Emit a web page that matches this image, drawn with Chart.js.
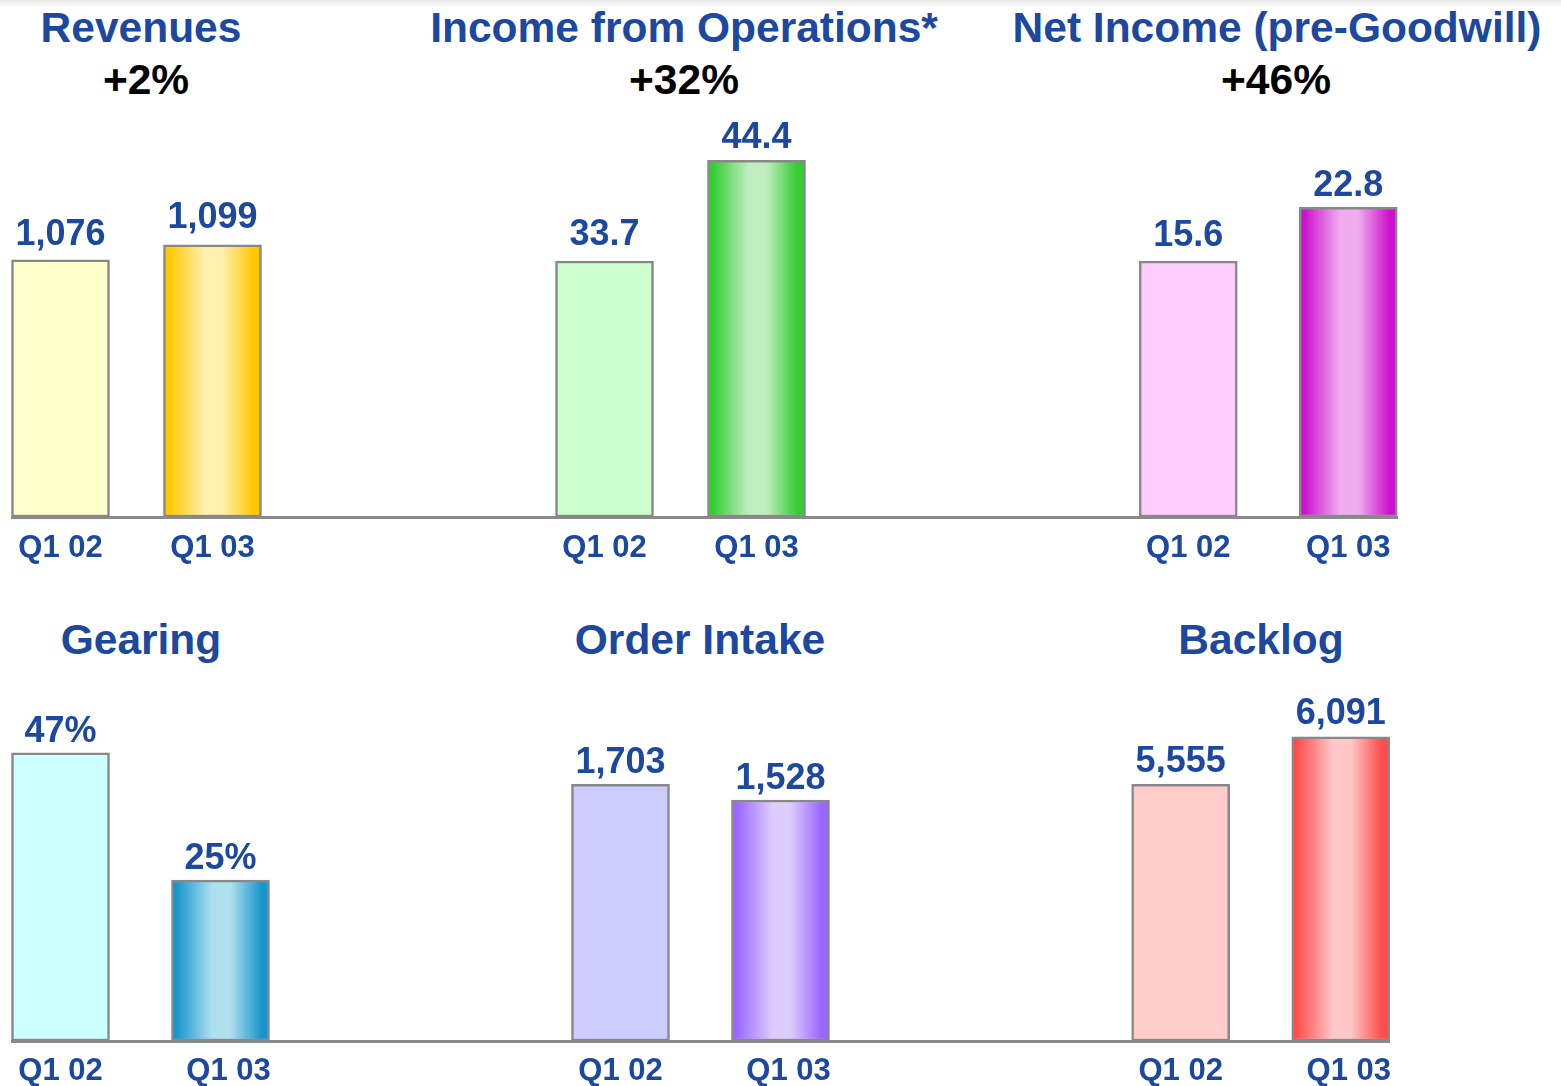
<!DOCTYPE html>
<html lang="en">
<head>
<meta charset="UTF-8">
<title>Q1 03 Key Figures</title>
<script src="https://cdn.jsdelivr.net/npm/chart.js@4.4.1/dist/chart.umd.min.js"></script>
<style>
  html, body { margin: 0; padding: 0; }
  body {
    width: 1561px; height: 1086px; overflow: hidden; position: relative;
    background: linear-gradient(#e8e8e8 0px, #ffffff 7px);
    font-family: "Liberation Sans", Arial, sans-serif;
  }
  .ttl {
    position: absolute; transform: translateX(-50%); white-space: nowrap;
    font-size: 42.5px; line-height: 42px; font-weight: bold; color: #1c48a0;
  }
  .ttl.pct { color: #000; }
  canvas { position: absolute; }
</style>
</head>
<body>

  <!-- top row headings -->
  <div class="ttl" style="left:141px; top:7px">Revenues</div>
  <div class="ttl pct" style="left:146px; top:59px">+2%</div>
  <div class="ttl" style="left:684px; top:7px">Income from Operations*</div>
  <div class="ttl pct" style="left:684px; top:59px">+32%</div>
  <div class="ttl" style="left:1277px; top:7px">Net Income (pre-Goodwill)</div>
  <div class="ttl pct" style="left:1276px; top:59px">+46%</div>

  <!-- bottom row headings -->
  <div class="ttl" style="left:141px; top:619px">Gearing</div>
  <div class="ttl" style="left:700px; top:619px">Order Intake</div>
  <div class="ttl" style="left:1261px; top:619px">Backlog</div>

  <canvas id="revenues" width="397" height="480" style="left:11px; top:100px"></canvas>
  <canvas id="income" width="564" height="480" style="left:408px; top:100px"></canvas>
  <canvas id="net" width="426" height="480" style="left:972px; top:100px"></canvas>
  <canvas id="gearing" width="409" height="422" style="left:11px; top:680px"></canvas>
  <canvas id="orders" width="560" height="422" style="left:420px; top:680px"></canvas>
  <canvas id="backlog" width="411" height="422" style="left:980px; top:680px"></canvas>

<script>
  // values
  const quarters = ['Q1 02', 'Q1 03'];
  const revenues = [1076, 1099];
  const incomeOps = [33.7, 44.4];
  const netIncome = [15.6, 22.8];
  const gearing = [47, 25];
  const orderIntake = [1703, 1528];
  const backlog = [5555, 6091];

  const BLUE = '#1c48a0';
  const FONT = '"Liberation Sans", Arial, sans-serif';
  const BAR = 98;

  // draws the number above each bar
  function valueLabels(fmt, gaps) {
    return {
      id: 'valueLabels',
      afterDatasetsDraw(chart) {
        const ctx = chart.ctx;
        const ds = chart.data.datasets[0];
        ctx.save();
        ctx.font = 'bold 36px ' + FONT;
        ctx.fillStyle = BLUE;
        ctx.textAlign = 'center';
        ctx.textBaseline = 'alphabetic';
        chart.getDatasetMeta(0).data.forEach((bar, i) => {
          ctx.fillText(fmt(ds.data[i].y), bar.x, bar.y - gaps[i]);
        });
        ctx.restore();
      }
    };
  }

  function barChart(id, values, fmt, look) {
    const pts = values.map((v, i) => ({ x: i, y: v }));
    return new Chart(document.getElementById(id), {
      type: 'bar',
      data: {
        datasets: [{
          data: pts,
          base: look.y[0],
          barThickness: BAR,
          borderColor: '#888888',
          borderWidth: 2.5,
          borderSkipped: false,
          clip: false,
          // Q1 03 bars get the shaded "tube" look
          backgroundColor: (c) => {
            if (c.type !== 'data' || c.dataIndex === 0) return look.flat;
            const chart = c.chart;
            if (!chart.chartArea) return look.edge;
            const cx = chart.scales.x.getPixelForValue(c.parsed.x);
            const g = chart.ctx.createLinearGradient(cx - BAR / 2, 0, cx + BAR / 2, 0);
            g.addColorStop(0, look.edge);
            g.addColorStop(0.05, look.edge);
            g.addColorStop(0.42, look.mid);
            g.addColorStop(0.6, look.mid);
            g.addColorStop(0.92, look.edge);
            g.addColorStop(1, look.edge);
            return g;
          }
        }]
      },
      options: {
        responsive: false,
        animation: false,
        devicePixelRatio: 1,
        layout: { padding: 0 },
        plugins: {
          legend: { display: false },
          tooltip: { enabled: false },
          title: { display: false }
        },
        scales: {
          x: {
            type: 'linear',
            offset: false,
            min: look.x[0],
            max: look.x[1],
            grid: { display: false, drawTicks: false },
            border: { display: true, color: '#8a8a8a', width: 3 },
            // one tick per quarter; bottom-row Q1 03 labels sit a little right of the bar, as on the slide
            afterBuildTicks: (scale) => { scale.ticks = look.ticksAt.map((v) => ({ value: v })); },
            ticks: {
              autoSkip: false,
              maxRotation: 0,
              minRotation: 0,
              padding: 0,
              color: BLUE,
              font: { family: FONT, size: 31, weight: 'bold', lineHeight: look.lh },
              callback: (v, i) => quarters[i] || ''
            }
          },
          y: { display: false, min: look.y[0], max: look.y[1] }
        }
      },
      plugins: [valueLabels(fmt, look.gaps)]
    });
  }

  const thousands = (v) => v.toLocaleString('en-US');
  const oneDec = (v) => v.toFixed(1);
  const percent = (v) => v + '%';

  // top row
  barChart('revenues', revenues, thousands, {
    x: [-0.3257, 2.2862], y: [682, 1321], lh: '63px', gaps: [15, 16.5], ticksAt: [0, 1],
    flat: '#ffffcc', edge: '#ffc800', mid: '#fff0b0'
  });
  barChart('income', incomeOps, oneDec, {
    x: [-1.2928, 2.4178], y: [6.5, 50.8], lh: '63px', gaps: [15.5, 12], ticksAt: [0, 1],
    flat: '#ccffcc', edge: '#33cc33', mid: '#c0eec0'
  });
  barChart('net', netIncome, oneDec, {
    x: [-1.3516, 1.3109], y: [-18.7, 37.2], lh: '63px', gaps: [15, 11], ticksAt: [0, 1],
    flat: '#ffccff', edge: '#cc11cc', mid: '#eeaeee'
  });

  // bottom row
  barChart('gearing', gearing, percent, {
    x: [-0.3094, 2.2469], y: [-2.8, 59.6], lh: '61px', gaps: [11, 11.5], ticksAt: [0, 1.05],
    flat: '#ccffff', edge: '#1896cc', mid: '#b0e0ee'
  });
  barChart('orders', orderIntake, thousands, {
    x: [-1.2531, 2.2469], y: [-1159, 2866], lh: '61px', gaps: [11, 11.5], ticksAt: [0, 1.05],
    flat: '#ccccff', edge: '#9966ff', mid: '#ddccff'
  });
  barChart('backlog', backlog, thousands, {
    x: [-1.2531, 1.3031], y: [2665, 6730], lh: '61px', gaps: [12.5, 12.5], ticksAt: [0, 1.05],
    flat: '#ffcccc', edge: '#ff4c4c', mid: '#ffc8c8'
  });
</script>
</body>
</html>
